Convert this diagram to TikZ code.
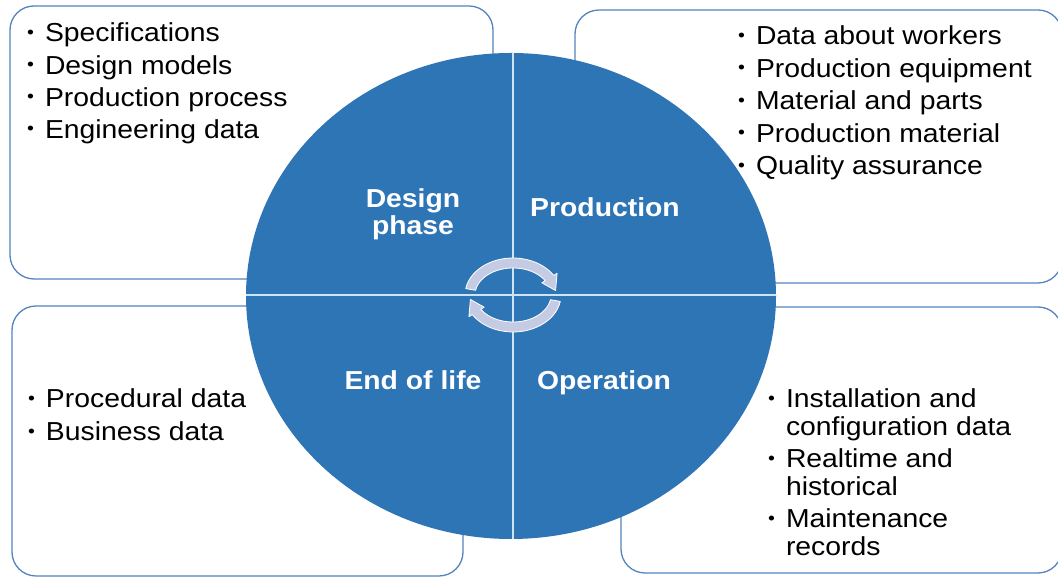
\documentclass[tikz,border=0pt]{standalone}
\usepackage{fontspec}
\setmainfont{Liberation Sans}[FakeStretch=1.09]
\definecolor{discblue}{RGB}{46,117,182}
\definecolor{boxline}{RGB}{84,131,190}
\definecolor{divline}{RGB}{205,228,244}
\definecolor{cyclefill}{RGB}{198,203,228}
% small list bullet and the matching hanging indent
\newcommand\dotitem{\makebox[17.8pt][l]{\raisebox{3.7pt}{\fontsize{18}{18}\selectfont •}}}
\newcommand\dotindent{\hspace*{17.8pt}}

\begin{document}
\begin{tikzpicture}[x=1pt,y=1pt,
  infobox/.style={draw=boxline, line width=1.3pt, fill=white, rounded corners=24pt},
  listtext/.style={inner sep=0pt, anchor=base west, text=black},
  phaselabel/.style={inner sep=0pt, anchor=base, text=white,
    font=\bfseries\fontsize{26}{26}\selectfont},
  cyclearrow/.style={fill=cyclefill, draw=white, line width=0.8pt, line join=round}]
\useasboundingbox (0,0) rectangle (1058,577);
\clip (0,0) rectangle (1058,577);

% data boxes behind the disc
\draw[infobox] (10,298) rectangle (493,571);
\draw[infobox] (575,294) rectangle (1062,567);
\draw[infobox] (12,1) rectangle (463,271);
\draw[infobox] (621,4) rectangle (1062,270);

% lifecycle disc split into four phases
\fill[discblue] (511,281) ellipse [x radius=265, y radius=243];
\begin{scope}
  \clip (511,281) ellipse [x radius=265, y radius=243];
  \draw[divline, line width=1.5pt] (240,282) -- (780,282);
  \draw[divline, line width=1.5pt] (513,30) -- (513,530);
\end{scope}

% circular arrows in the centre
\begin{scope}[shift={(513,282)}]
  \draw[cyclearrow] (170:48 and 37)
    arc[start angle=170, end angle=32, x radius=48, y radius=37]
    -- (32:52 and 41) -- (8:43 and 32) -- (32:34 and 23) -- (32:38 and 27)
    arc[start angle=32, end angle=170, x radius=38, y radius=27] -- cycle;
  \draw[cyclearrow] (-10:48 and 37)
    arc[start angle=-10, end angle=-148, x radius=48, y radius=37]
    -- (-148:52 and 41) -- (-172:43 and 32) -- (-148:34 and 23) -- (-148:38 and 27)
    arc[start angle=-148, end angle=-10, x radius=38, y radius=27] -- cycle;
\end{scope}

% phase names
\node[phaselabel] (design) at (413,369)
  {\begin{tabular}[t]{@{}c@{}}Design\\phase\end{tabular}};
\node[phaselabel] (production) at (605,360) {Production};
\node[phaselabel] (endoflife) at (413,187) {End of life};
\node[phaselabel] (operation) at (604,187) {Operation};

% data lists
\node[listtext, font=\fontsize{26}{32.2}\selectfont] (designdata) at (27,535)
  {\begin{tabular}[t]{@{}l@{}}
   \dotitem Specifications\\
   \dotitem Design models\\
   \dotitem Production process\\
   \dotitem Engineering data
   \end{tabular}};
\node[listtext, font=\fontsize{26}{32.5}\selectfont] (productiondata) at (738,532)
  {\begin{tabular}[t]{@{}l@{}}
   \dotitem Data about workers\\
   \dotitem Production equipment\\
   \dotitem Material and parts\\
   \dotitem Production material\\
   \dotitem Quality assurance
   \end{tabular}};
\node[listtext, font=\fontsize{26}{33}\selectfont] (endoflifedata) at (28,169)
  {\begin{tabular}[t]{@{}l@{}}
   \dotitem Procedural data\\
   \dotitem Business data
   \end{tabular}};
\node[listtext, font=\fontsize{26}{28}\selectfont] (operationdata) at (768,169)
  {\begin{tabular}[t]{@{}l@{}}
   \dotitem Installation and\\
   \dotindent configuration data\\[4pt]
   \dotitem Realtime and\\
   \dotindent historical\\[4pt]
   \dotitem Maintenance\\
   \dotindent records
   \end{tabular}};
\end{tikzpicture}
\end{document}
